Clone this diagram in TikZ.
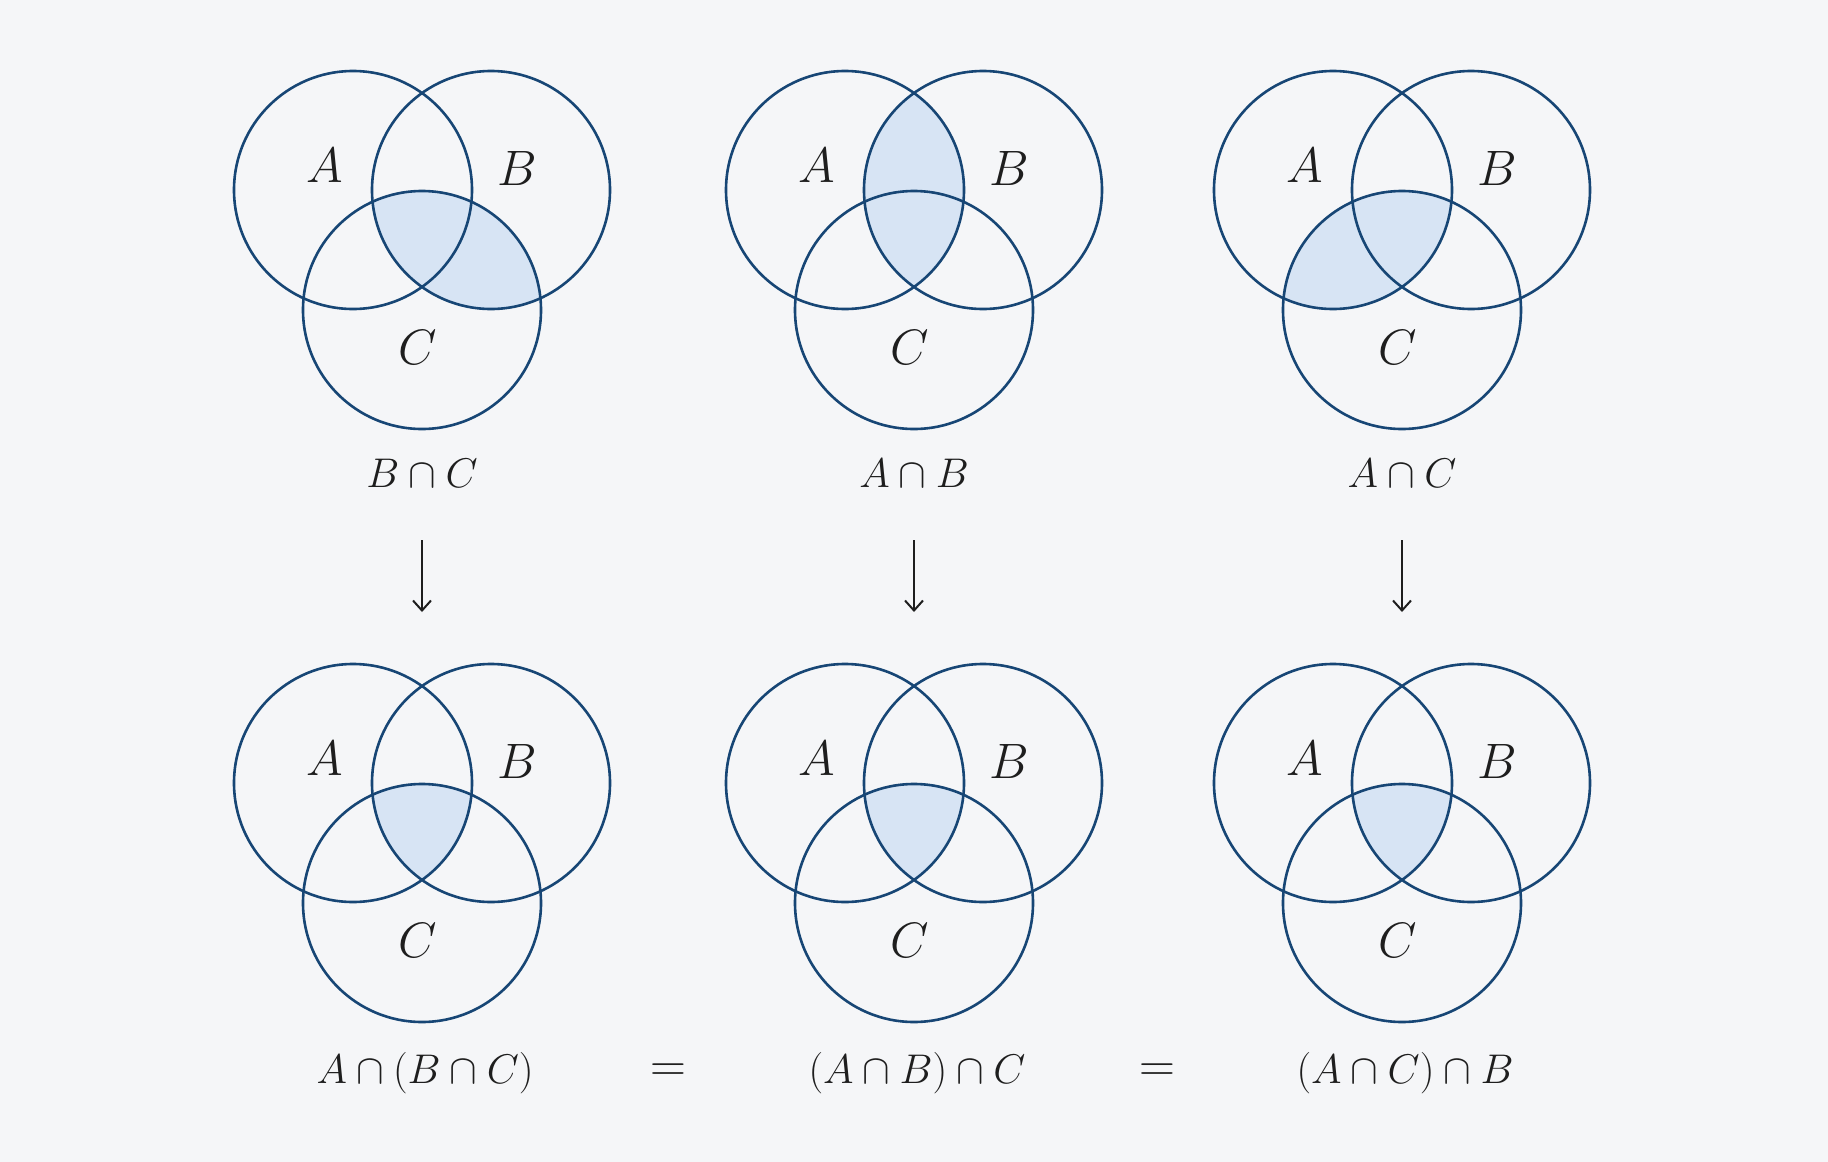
\documentclass[tikz,border=0pt]{standalone}
\usepackage{amsmath}
\usetikzlibrary{arrows.meta}

\definecolor{setline}{HTML}{174675}
\definecolor{setfill}{HTML}{D7E4F4}
\definecolor{bgpaper}{HTML}{F5F6F8}
\definecolor{inkdark}{HTML}{1E1E1E}

\tikzset{
  setcircle/.style={draw=setline, line width=1.3pt},
  setname/.style={text=inkdark, font=\fontsize{27}{30}\selectfont},
  setlabel/.style={text=inkdark, font=\fontsize{21}{24}\selectfont},
  eqsign/.style={text=inkdark, font=\fontsize{24}{28}\selectfont},
  steparrow/.style={draw=inkdark, line width=1pt, -{Straight Barb[length=5pt,width=9pt]}},
}

\begin{document}
\begin{tikzpicture}[x=0.5pt, y=-0.5pt]
  % Background
  \fill[bgpaper] (0,0) rectangle (1828,1162);

  % Top row: one pairwise intersection per column
  \foreach \i/\cx/\p/\q/\txt in {1/422/B/C/{B\cap C}, 2/914/A/B/{A\cap B}, 3/1402/A/C/{A\cap C}} {
    \coordinate (tA\i) at (\cx-69, 190);
    \coordinate (tB\i) at (\cx+69, 190);
    \coordinate (tC\i) at (\cx, 310);
    \begin{scope}
      \clip (t\p\i) circle[radius=59.5pt];
      \fill[setfill] (t\q\i) circle[radius=59.5pt];
    \end{scope}
    \foreach \s in {A,B,C}
      \draw[setcircle] (t\s\i) circle[radius=59.5pt];
    \node[setname] (tnA\i) at (\cx-97, 165) {$A$};
    \node[setname] (tnB\i) at (\cx+95, 168) {$B$};
    \node[setname] (tnC\i) at (\cx-4, 347)  {$C$};
    \node[setlabel] (top\i) at (\cx, 473) {$\txt$};

    % Arrow down
    \coordinate (as\i) at (\cx, 540);
    \coordinate (ae\i) at (\cx, 612);
    \draw[steparrow] (as\i) -- (ae\i);
  }

  % Bottom row: the triple intersection
  \foreach \i/\cx/\txt in {1/422/{A\cap(B\cap C)}, 2/914/{(A\cap B)\cap C}, 3/1402/{(A\cap C)\cap B}} {
    \coordinate (bA\i) at (\cx-69, 783);
    \coordinate (bB\i) at (\cx+69, 783);
    \coordinate (bC\i) at (\cx, 903);
    \begin{scope}
      \clip (bA\i) circle[radius=59.5pt];
      \clip (bB\i) circle[radius=59.5pt];
      \fill[setfill] (bC\i) circle[radius=59.5pt];
    \end{scope}
    \foreach \s in {A,B,C}
      \draw[setcircle] (b\s\i) circle[radius=59.5pt];
    \node[setname] (bnA\i) at (\cx-97, 758) {$A$};
    \node[setname] (bnB\i) at (\cx+95, 761) {$B$};
    \node[setname] (bnC\i) at (\cx-4, 940)  {$C$};
    \node[setlabel] (bot\i) at (\cx+3, 1073) {$\txt$};
  }

  % Equals signs
  \node[eqsign] (eq1) at (668, 1073) {$=$};
  \node[eqsign] (eq2) at (1157, 1073) {$=$};
\end{tikzpicture}
\end{document}
